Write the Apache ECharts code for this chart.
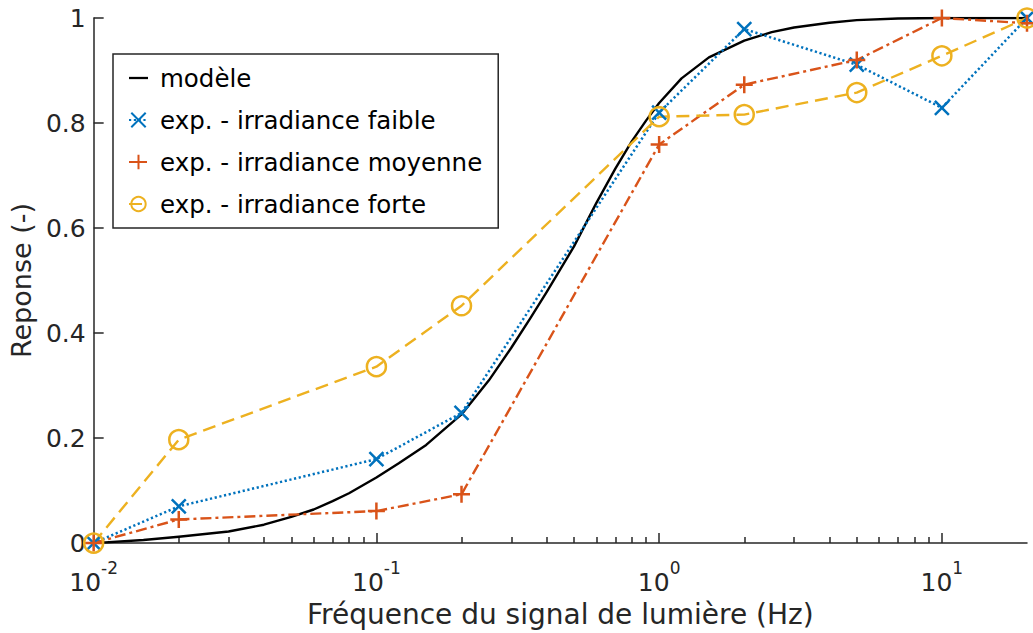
<!DOCTYPE html>
<html>
<head>
<meta charset="utf-8">
<script src="https://cdn.jsdelivr.net/npm/echarts@6/dist/echarts.min.js"></script>
<style>
html,body{margin:0;padding:0;background:#fff;}
#chart{width:1033px;height:633px;}
</style>
</head>
<body>
<div id="chart"></div>
<script>
// ---- data ----
const freq = [0.01, 0.02, 0.1, 0.2, 1, 2, 5, 10, 20];
const faible = [0, 0.070, 0.160, 0.248, 0.820, 0.979, 0.911, 0.829, 1.0];
const moyenne = [0, 0.045, 0.061, 0.093, 0.759, 0.873, 0.920, 1.0, 0.99];
const forte = [0, 0.197, 0.336, 0.452, 0.812, 0.816, 0.858, 0.928, 1.0];
const modelFreq = [0.01, 0.015, 0.02, 0.03, 0.04, 0.05, 0.06, 0.07, 0.08, 0.1, 0.12, 0.15, 0.2, 0.25, 0.3, 0.35, 0.4, 0.5, 0.6, 0.7, 0.8, 0.9, 1, 1.2, 1.5, 2, 2.5, 3, 4, 5, 7, 10, 20];
const modelResp = [0, 0.006, 0.012, 0.022, 0.035, 0.05, 0.064, 0.08, 0.095, 0.125, 0.152, 0.187, 0.245, 0.31, 0.372, 0.428, 0.478, 0.565, 0.648, 0.713, 0.765, 0.805, 0.838, 0.885, 0.925, 0.957, 0.973, 0.982, 0.991, 0.996, 0.999, 1, 1];
const xMajorTicks = [0.01, 0.1, 1, 10];
const xMinorTicks = [0.02,0.03,0.04,0.05,0.06,0.07,0.08,0.09,0.2,0.3,0.4,0.5,0.6,0.7,0.8,0.9,2,3,4,5,6,7,8,9];
const seriesNames = ['modèle', 'exp. - irradiance faible', 'exp. - irradiance moyenne', 'exp. - irradiance forte'];
const xTitle = 'Fréquence du signal de lumière (Hz)';
const yTitle = 'Reponse (-)';

const FONT = '"DejaVu Sans", sans-serif';
const TXT = '#262626';
const C_BLUE = '#0072BD', C_ORANGE = '#D95319', C_YELLOW = '#EDB120';

function pairs(xs, ys) { return xs.map((x, i) => [x, ys[i]]); }

const chart = echarts.init(document.getElementById('chart'), null, {renderer: 'svg'});
chart.setOption({
  animation: false,
  backgroundColor: '#fff',
  grid: {left: 89, right: 6, top: 18, bottom: 88, containLabel: false},
  legend: {
    orient: 'vertical',
    left: 113, top: 54,
    padding: [9, 16, 9, 15],
    itemGap: 12,
    itemWidth: 19,
    itemHeight: 18,
    backgroundColor: '#fff',
    borderColor: TXT,
    borderWidth: 1.5,
    borderRadius: 0,
    selectedMode: false,
    textStyle: {fontFamily: FONT, fontSize: 24.5, color: '#000', lineHeight: 30, padding: [0, 0, 0, 7]},
    data: [
      {name: seriesNames[0], icon: 'path://M0,0H20V2.4H0Z'},
      {name: seriesNames[1]},
      {name: seriesNames[2]},
      {name: seriesNames[3]}
    ]
  },
  xAxis: [{
    type: 'log', logBase: 10, min: 0.01, max: 20,
    name: xTitle, nameLocation: 'middle', nameGap: 51,
    nameTextStyle: {fontFamily: FONT, fontSize: 28, color: TXT},
    axisLine: {show: true, lineStyle: {color: TXT, width: 1.5}},
    axisTick: {show: true, inside: true, length: 10, customValues: xMajorTicks, lineStyle: {color: TXT, width: 1.5}},
    axisLabel: {
      customValues: xMajorTicks, margin: 16, color: TXT,
      formatter: function (v) { return '{b|10}{s|' + Math.round(Math.log10(v)) + '}'; },
      rich: {
        b: {fontFamily: FONT, fontSize: 25, color: TXT, lineHeight: 36, verticalAlign: 'bottom'},
        s: {fontFamily: FONT, fontSize: 17, color: TXT, lineHeight: 18, verticalAlign: 'top'}
      }
    },
    splitLine: {show: false},
    minorTick: {show: false}
  }, {
    type: 'log', logBase: 10, min: 0.01, max: 20, position: 'bottom',
    axisLine: {show: false},
    axisTick: {show: true, inside: true, length: 6, customValues: xMinorTicks, lineStyle: {color: TXT, width: 1.5}},
    axisLabel: {show: false},
    splitLine: {show: false}
  }],
  yAxis: {
    type: 'value', min: 0, max: 1, interval: 0.2,
    name: yTitle, nameLocation: 'middle', nameGap: 48,
    nameTextStyle: {fontFamily: FONT, fontSize: 27, color: TXT},
    axisLine: {show: true, lineStyle: {color: TXT, width: 1.5}},
    axisTick: {show: true, inside: true, length: 10, lineStyle: {color: TXT, width: 1.5}},
    axisLabel: {fontFamily: FONT, fontSize: 25, color: TXT, margin: 8},
    splitLine: {show: false}
  },
  series: [
    {
      name: seriesNames[0], type: 'line', xAxisIndex: 0,
      data: pairs(modelFreq, modelResp),
      symbol: 'none', smooth: false,
      color: '#000',
      lineStyle: {color: '#000', width: 2.4, join: 'round'}
    },
    {
      name: seriesNames[1], type: 'line', xAxisIndex: 0,
      data: pairs(freq, faible), clip: false,
      symbol: 'path://M0,0L10,10M10,0L0,10', symbolSize: 14,
      color: C_BLUE,
      itemStyle: {color: C_BLUE, borderColor: C_BLUE, borderWidth: 2.5},
      lineStyle: {color: C_BLUE, width: 2.5, type: [2.2, 2.6]}
    },
    {
      name: seriesNames[2], type: 'line', xAxisIndex: 0,
      data: pairs(freq, moyenne), clip: false,
      symbol: 'path://M5,0L5,10M0,5L10,5', symbolSize: 17,
      color: C_ORANGE,
      itemStyle: {color: C_ORANGE, borderColor: C_ORANGE, borderWidth: 2.5},
      lineStyle: {color: C_ORANGE, width: 2.4, type: [11, 4, 3, 4]}
    },
    {
      name: seriesNames[3], type: 'line', xAxisIndex: 0,
      data: pairs(freq, forte), clip: false,
      symbol: 'circle', symbolSize: 19,
      color: C_YELLOW,
      itemStyle: {color: 'rgba(255,255,255,0)', borderColor: C_YELLOW, borderWidth: 2.5},
      lineStyle: {color: C_YELLOW, width: 2.4, type: [13, 7]}
    }
  ]
});
</script>
</body>
</html>
